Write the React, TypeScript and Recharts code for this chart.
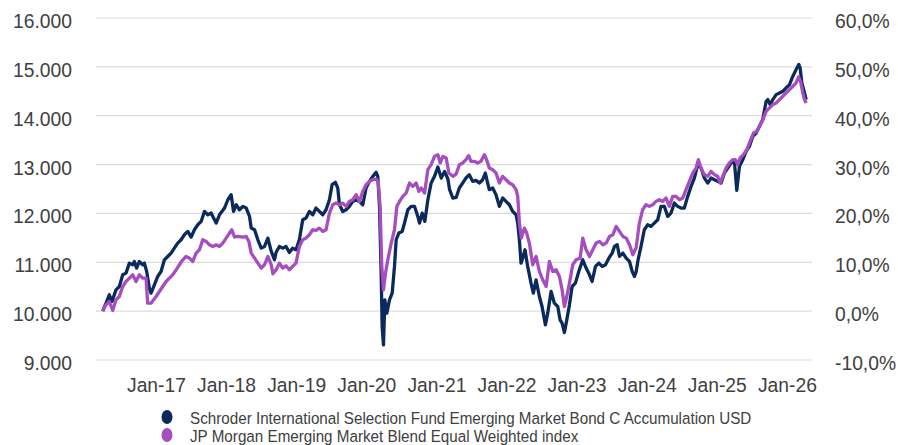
import React from 'react';
import { LineChart, Line, XAxis, YAxis, CartesianGrid, Legend } from 'recharts';

const seriesNames = [
  'Schroder International Selection Fund Emerging Market Bond C Accumulation USD',
  'JP Morgan Emerging Market Blend Equal Weighted index',
];

const fundDates = [
  2016.232, 2016.28, 2016.327, 2016.365, 2016.422, 2016.47, 2016.518, 2016.565, 2016.613, 2016.66,
  2016.684, 2016.717, 2016.755, 2016.803, 2016.827, 2016.86, 2016.898, 2016.922, 2016.97, 2017.017,
  2017.065, 2017.113, 2017.16, 2017.208, 2017.255, 2017.303, 2017.351, 2017.398, 2017.446, 2017.494,
  2017.541, 2017.589, 2017.637, 2017.684, 2017.732, 2017.779, 2017.827, 2017.851, 2017.899, 2017.97,
  2018.018, 2018.065, 2018.099, 2018.137, 2018.184, 2018.232, 2018.28, 2018.327, 2018.351, 2018.399,
  2018.446, 2018.494, 2018.541, 2018.589, 2018.637, 2018.684, 2018.705, 2018.753, 2018.8, 2018.848,
  2018.895, 2018.943, 2018.99, 2019.038, 2019.086, 2019.133, 2019.181, 2019.229, 2019.276, 2019.324,
  2019.371, 2019.419, 2019.467, 2019.505, 2019.552, 2019.586, 2019.61, 2019.657, 2019.705, 2019.752,
  2019.8, 2019.848, 2019.895, 2019.943, 2019.99, 2020.038, 2020.086, 2020.133, 2020.157, 2020.181,
  2020.205, 2020.219, 2020.238, 2020.257, 2020.286, 2020.324, 2020.362, 2020.395, 2020.419, 2020.457,
  2020.505, 2020.538, 2020.586, 2020.633, 2020.681, 2020.728, 2020.752, 2020.79, 2020.828, 2020.871,
  2020.918, 2020.966, 2021.014, 2021.062, 2021.109, 2021.157, 2021.181, 2021.228, 2021.276, 2021.32,
  2021.367, 2021.415, 2021.462, 2021.51, 2021.558, 2021.605, 2021.653, 2021.691, 2021.724, 2021.748,
  2021.796, 2021.843, 2021.891, 2021.938, 2021.986, 2022.034, 2022.081, 2022.129, 2022.153, 2022.177,
  2022.2, 2022.224, 2022.257, 2022.295, 2022.343, 2022.376, 2022.415, 2022.462, 2022.5, 2022.548,
  2022.581, 2022.629, 2022.676, 2022.724, 2022.757, 2022.786, 2022.819, 2022.853, 2022.891, 2022.929,
  2022.976, 2023.024, 2023.081, 2023.129, 2023.177, 2023.214, 2023.262, 2023.31, 2023.357, 2023.405,
  2023.453, 2023.5, 2023.534, 2023.572, 2023.605, 2023.653, 2023.7, 2023.748, 2023.786, 2023.819,
  2023.843, 2023.87, 2023.912, 2023.959, 2024.007, 2024.054, 2024.102, 2024.15, 2024.197, 2024.245,
  2024.293, 2024.34, 2024.388, 2024.435, 2024.483, 2024.53, 2024.578, 2024.626, 2024.673, 2024.721,
  2024.768, 2024.816, 2024.864, 2024.911, 2024.959, 2025.006, 2025.054, 2025.102, 2025.149, 2025.197,
  2025.244, 2025.278, 2025.316, 2025.364, 2025.411, 2025.459, 2025.507, 2025.554, 2025.602, 2025.649,
  2025.697, 2025.721, 2025.754, 2025.792, 2025.84, 2025.887, 2025.935, 2025.982, 2026.03, 2026.078,
  2026.125, 2026.163, 2026.182, 2026.206, 2026.244, 2026.268,
];

const fundValues = [
  10000, 10163, 10334, 10197, 10436, 10505, 10744, 10778, 10983, 10949,
  11017, 10880, 11017, 10949, 10983, 10812, 10470, 10368, 10539, 10709,
  10812, 11051, 11119, 11188, 11290, 11393, 11461, 11563, 11632, 11515,
  11666, 11768, 11836, 12041, 11973, 12007, 11871, 11802, 11973, 12110,
  12280, 12383, 12041, 12178, 12075, 12144, 12110, 11939, 11700, 11666,
  11461, 11290, 11324, 11495, 11222, 11051, 11200, 11324, 11290, 11324,
  11202, 11290, 11256, 11461, 11871, 11905, 12041, 11973, 12110, 12041,
  11973, 12076, 12280, 12588, 12636, 12520, 12178, 12041, 12076, 12144,
  12246, 12280, 12246, 12178, 12520, 12656, 12759, 12841, 12759, 12144,
  10778, 9685, 9310, 10232, 9958, 10232, 10368, 10915, 11461, 11598,
  11632, 11803, 12076, 12144, 12144, 11939, 11803, 12007, 11837, 12280,
  12622, 12759, 12950, 12724, 12861, 12704, 12486, 12315, 12330, 12520,
  12622, 12725, 12793, 12656, 12677, 12622, 12690, 12827, 12622, 12486,
  12520, 12383, 12144, 12315, 12246, 12178, 12042, 11973, 11803, 11461,
  10983, 11085, 11256, 10915, 10573, 10368, 10641, 10300, 10095, 9719,
  9958, 10402, 10163, 10095, 9822, 9754, 9562, 9822, 10129, 10505,
  10573, 10812, 11051, 10881, 10744, 10607, 10915, 10983, 10915, 10949,
  11085, 11188, 11325, 11359, 11120, 11188, 11085, 11017, 10812, 10710,
  10812, 11050, 11324, 11666, 11768, 11734, 11803, 11871, 12144, 12144,
  11939, 12007, 12212, 12144, 12110, 12110, 12349, 12554, 12724, 12998,
  12929, 12724, 12622, 12724, 12690, 12656, 12622, 12827, 12929, 13032,
  13066, 12472, 12964, 13100, 13271, 13373, 13578, 13646, 13783, 13920,
  14295, 14330, 14227, 14330, 14432, 14466, 14500, 14569, 14637, 14808,
  14944, 15047, 14978, 14671, 14466, 14330,
];

const indexDates = [
  2016.232, 2016.28, 2016.327, 2016.375, 2016.422, 2016.47, 2016.518, 2016.565, 2016.613, 2016.66,
  2016.708, 2016.755, 2016.803, 2016.851, 2016.874, 2016.922, 2016.994, 2017.041, 2017.089, 2017.137,
  2017.184, 2017.232, 2017.28, 2017.327, 2017.375, 2017.422, 2017.47, 2017.518, 2017.565, 2017.613,
  2017.66, 2017.708, 2017.755, 2017.803, 2017.851, 2017.899, 2017.946, 2017.994, 2018.041, 2018.075,
  2018.113, 2018.16, 2018.232, 2018.28, 2018.318, 2018.351, 2018.399, 2018.446, 2018.494, 2018.541,
  2018.589, 2018.637, 2018.66, 2018.708, 2018.753, 2018.8, 2018.848, 2018.895, 2018.943, 2018.99,
  2019.038, 2019.086, 2019.133, 2019.181, 2019.229, 2019.276, 2019.324, 2019.371, 2019.419, 2019.467,
  2019.514, 2019.562, 2019.61, 2019.657, 2019.705, 2019.752, 2019.8, 2019.848, 2019.895, 2019.943,
  2019.99, 2020.038, 2020.086, 2020.133, 2020.162, 2020.19, 2020.214, 2020.238, 2020.267, 2020.3,
  2020.348, 2020.395, 2020.429, 2020.467, 2020.514, 2020.562, 2020.61, 2020.657, 2020.705, 2020.743,
  2020.776, 2020.824, 2020.871, 2020.918, 2020.966, 2021.014, 2021.047, 2021.086, 2021.133, 2021.171,
  2021.228, 2021.276, 2021.32, 2021.367, 2021.415, 2021.453, 2021.486, 2021.534, 2021.581, 2021.629,
  2021.677, 2021.71, 2021.748, 2021.796, 2021.843, 2021.891, 2021.938, 2021.986, 2022.034, 2022.081,
  2022.129, 2022.153, 2022.177, 2022.205, 2022.248, 2022.281, 2022.319, 2022.367, 2022.415, 2022.462,
  2022.51, 2022.558, 2022.605, 2022.653, 2022.7, 2022.748, 2022.786, 2022.819, 2022.853, 2022.891,
  2022.938, 2022.986, 2023.043, 2023.081, 2023.129, 2023.177, 2023.224, 2023.272, 2023.319, 2023.367,
  2023.415, 2023.462, 2023.51, 2023.558, 2023.605, 2023.653, 2023.7, 2023.748, 2023.795, 2023.843,
  2023.888, 2023.935, 2023.983, 2024.031, 2024.078, 2024.126, 2024.173, 2024.221, 2024.269, 2024.316,
  2024.364, 2024.411, 2024.459, 2024.507, 2024.554, 2024.602, 2024.65, 2024.697, 2024.73, 2024.768,
  2024.816, 2024.864, 2024.911, 2024.959, 2025.006, 2025.04, 2025.078, 2025.125, 2025.173, 2025.221,
  2025.259, 2025.292, 2025.325, 2025.373, 2025.421, 2025.468, 2025.516, 2025.564, 2025.611, 2025.649,
  2025.697, 2025.745, 2025.792, 2025.84, 2025.887, 2025.935, 2025.982, 2026.03, 2026.078, 2026.125,
  2026.158, 2026.187, 2026.22, 2026.244, 2026.268,
];

const indexValues = [
  10000, 10129, 10197, 10013, 10231, 10300, 10505, 10607, 10675, 10744,
  10607, 10744, 10675, 10675, 10163, 10163, 10300, 10402, 10505, 10607,
  10675, 10744, 10846, 10949, 11051, 11119, 11085, 11017, 11188, 11256,
  11461, 11427, 11358, 11324, 11358, 11324, 11393, 11495, 11598, 11666,
  11515, 11529, 11515, 11529, 11427, 11188, 11085, 10983, 10880, 10949,
  11119, 10949, 10764, 10850, 10983, 10881, 10928, 10847, 10915, 10983,
  11324, 11461, 11495, 11563, 11666, 11652, 11700, 11632, 11666, 12007,
  12178, 12212, 12178, 12212, 12144, 12246, 12280, 12383, 12246, 12451,
  12588, 12656, 12690, 12704, 12656, 12144, 10915, 10437, 10778, 11051,
  11393, 11666, 12144, 12246, 12349, 12417, 12622, 12554, 12622, 12451,
  12520, 12417, 12895, 12998, 13168, 13203, 13032, 13168, 13134, 12827,
  12759, 12810, 12998, 13032, 13100, 13182, 13066, 13066, 13032, 13066,
  13203, 13100, 12930, 12895, 12827, 12622, 12759, 12690, 12622, 12588,
  12486, 12349, 11803, 11495, 11700, 11598, 11393, 10949, 11120, 10812,
  10641, 10505, 11017, 10812, 10847, 10710, 10437, 10095, 10300, 10573,
  10949, 11051, 11085, 11495, 11256, 11120, 11256, 11393, 11427, 11359,
  11393, 11529, 11563, 11734, 11632, 11529, 11495, 11359, 11154, 11300,
  11803, 12076, 12178, 12144, 12178, 12246, 12281, 12246, 12315, 12144,
  12349, 12349, 12281, 12315, 12486, 12656, 12827, 12929, 13100, 12929,
  12793, 12759, 12861, 12793, 12759, 12622, 12759, 12929, 13032, 13100,
  13100, 12998, 13134, 13203, 13305, 13476, 13646, 13681, 13817, 13920,
  14090, 14159, 14227, 14261, 14330, 14398, 14466, 14535, 14603, 14671,
  14794, 14705, 14466, 14330, 14261,
];

const xTicks = [2017, 2018, 2019, 2020, 2021, 2022, 2023, 2024, 2025, 2026];
const leftTicks = [9000, 10000, 11000, 12000, 13000, 14000, 15000, 16000];
const rightTicks = [-10, 0, 10, 20, 30, 40, 50, 60];

const NAVY = '#0b2a5c';
const PURPLE = '#a64dbf';
const TEXT = '#404040';
const FONT = '"Liberation Sans", Arial, sans-serif';

const fundData = fundDates.map((t, i) => ({ t, v: fundValues[i] }));
const indexData = indexDates.map((t, i) => ({ t, v: indexValues[i] }));

const fmtLeft = (v: number) => {
  const th = Math.floor(v / 1000);
  const rest = String(v % 1000).padStart(3, '0');
  return `${th}.${rest}`;
};
const fmtRight = (v: number) => `${v.toFixed(1).replace('.', ',')}%`;
const fmtX = (v: number) => `Jan-${String(v).slice(2)}`;

const LeftTick = (props: any) => {
  const { x, y, payload } = props;
  return (
    <text x={x} y={y + 10} textAnchor="end" fontSize={19.3} fill={TEXT} fontFamily={FONT}>
      {fmtLeft(payload.value)}
    </text>
  );
};

const RightTick = (props: any) => {
  const { x, y, payload } = props;
  return (
    <text x={x} y={y + 10} textAnchor="start" fontSize={19.3} fill={TEXT} fontFamily={FONT}>
      {fmtRight(payload.value)}
    </text>
  );
};

const BottomTick = (props: any) => {
  const { x, y, payload } = props;
  return (
    <text x={x} y={y + 32} textAnchor="middle" fontSize={19.3} fill={TEXT} fontFamily={FONT}>
      {fmtX(payload.value)}
    </text>
  );
};

const LegendContent = () => {
  const colors = [NAVY, PURPLE];
  return (
    <svg width={700} height={45} style={{ display: 'block', overflow: 'visible' }}>
      {seriesNames.map((name, i) => (
        <g key={name}>
          <ellipse cx={17} cy={17 + i * 18} rx={5.5} ry={7} fill={colors[i]} />
          <text
            transform={`translate(40, ${23.5 + i * 18}) scale(0.895, 1)`}
            fontSize={17}
            fill={TEXT}
            fontFamily={FONT}
          >
            {name}
          </text>
        </g>
      ))}
    </svg>
  );
};

export default function App() {
  return (
    <div style={{ position: 'absolute', left: 0, top: 0, width: 898, height: 445, background: '#fff' }}>
      <LineChart width={898} height={445} margin={{ top: 18, right: 0, left: 0, bottom: 55 }}>
        <CartesianGrid vertical={false} stroke="#dcdcdc" strokeWidth={1.2} yAxisId="left" />
        <XAxis
          dataKey="t"
          type="number"
          domain={[2016.137, 2026.351]}
          allowDataOverflow
          ticks={xTicks}
          interval={0}
          axisLine={false}
          tickLine={false}
          tickSize={0}
          tickMargin={0}
          height={30}
          tick={<BottomTick />}
        />
        <YAxis
          yAxisId="left"
          orientation="left"
          type="number"
          domain={[9000, 16000]}
          allowDataOverflow
          ticks={leftTicks}
          interval={0}
          width={96}
          axisLine={false}
          tickLine={false}
          tickSize={0}
          tickMargin={24}
          tick={<LeftTick />}
        />
        <YAxis
          yAxisId="right"
          orientation="right"
          type="number"
          domain={[-10, 60]}
          allowDataOverflow
          ticks={rightTicks}
          interval={0}
          width={86}
          axisLine={false}
          tickLine={false}
          tickSize={0}
          tickMargin={23}
          tick={<RightTick />}
        />
        <Legend
          layout="horizontal"
          verticalAlign="middle"
          align="center"
          wrapperStyle={{ top: 400, left: 150, width: 700, height: 45 }}
          content={<LegendContent />}
        />
        <Line
          data={fundData}
          dataKey="v"
          name={seriesNames[0]}
          yAxisId="left"
          type="linear"
          stroke={NAVY}
          strokeWidth={3.3}
          strokeLinejoin="round"
          dot={false}
          activeDot={false}
          isAnimationActive={false}
        />
        <Line
          data={indexData}
          dataKey="v"
          name={seriesNames[1]}
          yAxisId="left"
          type="linear"
          stroke={PURPLE}
          strokeWidth={3.3}
          strokeLinejoin="round"
          dot={false}
          activeDot={false}
          isAnimationActive={false}
        />
      </LineChart>
    </div>
  );
}
